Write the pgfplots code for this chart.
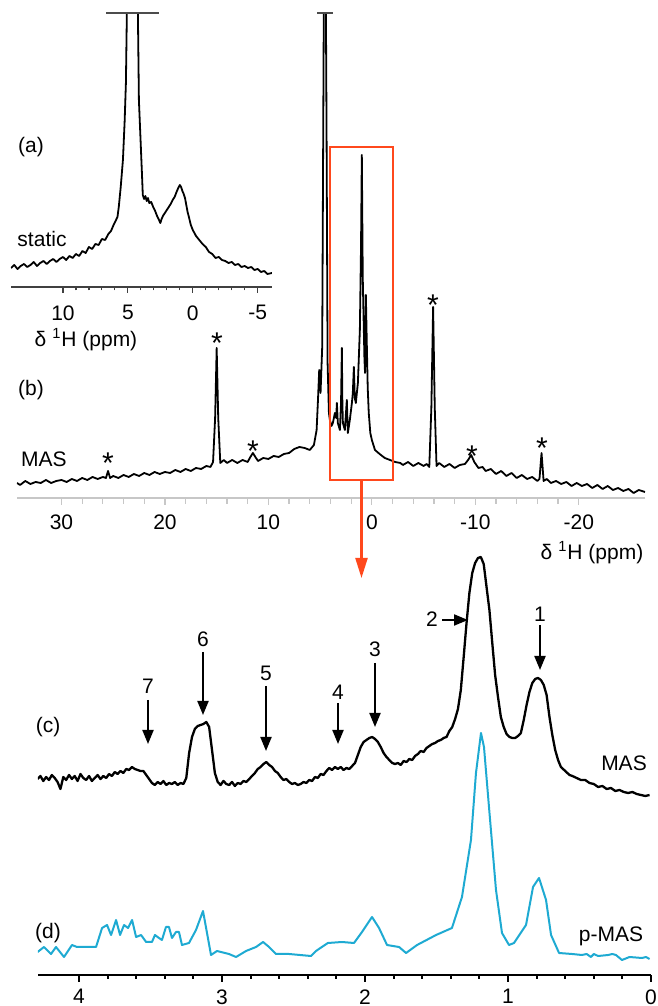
\documentclass[border=0pt]{standalone}
\usepackage{fontspec}
\setmainfont{Liberation Sans}
\usepackage{pgfplots}
\pgfplotsset{compat=1.18}
\usetikzlibrary{arrows.meta}
\definecolor{boxred}{RGB}{255,72,28}
\definecolor{pcyan}{RGB}{30,170,210}
\pgfplotsset{
  spec/.style={
    scale only axis, x dir=reverse, ymin=0,
    axis x line*=bottom, axis y line=none,
    tick align=outside,
    minor tick num=4,
    x tick label style={font=\fontsize{10.5}{12}\selectfont},
  }
}
\begin{document}
\fontsize{10.5}{12}\selectfont
\begin{tikzpicture}
\useasboundingbox (0,0) rectangle (329pt,503pt);
% ---------------- (a) static inset
\begin{axis}[spec, at={(5.5pt,359.5pt)}, anchor=south west,
  width=130.5pt, height=137pt,
  xmin=-6.1, xmax=14, ymax=274,
  xtick={-5,0,5,10}, xticklabels={-5,0,5,10},
  axis line style={draw=black!75, line width=0.6pt, -},
  tick style={draw=black!75, line width=0.6pt},
  major tick length=3pt, minor tick length=1.7pt,
  xticklabel style={yshift=-2.5pt}]
\addplot[black, line width=0.9pt, line join=round] coordinates {
(14.0,19) (13.75,22) (13.5,18) (13.25,21) (13.0,23) (12.75,20) (12.5,22) (12.25,25)
(12.0,21) (11.75,24) (11.5,26) (11.25,23) (11.0,26) (10.75,28) (10.5,25) (10.25,28)
(10.0,30) (9.75,27) (9.5,31) (9.25,29) (9.0,33) (8.75,31) (8.5,36) (8.25,34)
(8.0,40) (7.75,38) (7.5,43) (7.25,42) (7.0,48) (6.75,47) (6.5,53) (6.3,56)
(6.1,62) (5.95,66) (5.8,70) (5.7,80) (5.55,100) (5.38,127) (5.25,165) (5.15,204)
(5.05,300) (4.65,600) (4.25,300) (4.15,187) (4.0,140) (3.92,115) (3.85,92) (3.75,88)
(3.65,91) (3.55,86) (3.45,89) (3.35,84) (3.2,85) (3.05,80) (2.9,76) (2.75,71)
(2.6,67) (2.5,64) (2.4,68) (2.3,71) (2.15,74) (2.0,77) (1.85,80) (1.7,83)
(1.55,87) (1.4,90) (1.25,95) (1.12,99) (1.0,102) (0.9,100) (0.8,96) (0.7,93)
(0.6,89) (0.5,82) (0.4,75) (0.3,70) (0.15,62) (0.0,57) (-0.25,51) (-0.5,47)
(-0.75,43) (-1.0,40) (-1.25,35) (-1.5,33) (-1.75,29) (-2.0,30) (-2.25,27) (-2.5,26)
(-2.75,24) (-3.0,25) (-3.25,22) (-3.5,23) (-3.75,20) (-4.0,21) (-4.25,19) (-4.5,20)
(-4.75,17) (-5.0,18) (-5.25,15) (-5.5,16) (-5.75,13) (-6.1,14)
};
\end{axis}
% ---------------- (b) MAS full
\begin{axis}[spec, at={(8.5pt,254pt)}, anchor=south west,
  width=314pt, height=242.5pt,
  xmin=-26.4, xmax=34.3, ymax=485,
  xtick={-20,-10,0,10,20,30}, xticklabels={-20,-10,0,10,20,30},
  axis line style={draw=black!22, line width=0.6pt, -},
  tick style={draw=black!22, line width=0.6pt},
  major tick length=3.5pt, minor tick length=3pt,
  xticklabel style={yshift=-3.5pt, inner sep=1pt}]
\addplot[black, line width=0.9pt, line join=round] coordinates {
(34.3,15) (34.0,13) (33.5,17) (33.0,14) (32.5,16) (32.0,15) (31.5,18) (31.0,15)
(30.5,17) (30.0,18) (29.5,16) (29.0,19) (28.5,17) (28.0,20) (27.5,18) (27.0,21)
(26.5,19) (26.0,21) (25.7,20) (25.5,27) (25.3,20) (25.0,22) (24.5,20) (24.0,23)
(23.5,21) (23.0,24) (22.5,22) (22.0,25) (21.5,23) (21.0,26) (20.5,24) (20.0,26)
(19.5,25) (19.0,28) (18.5,26) (18.0,29) (17.5,27) (17.0,30) (16.5,29) (16.0,32)
(15.6,31) (15.35,36) (15.15,80) (15.0,150) (14.85,80) (14.65,35) (14.3,38) (14.0,35)
(13.5,38) (13.0,35) (12.5,38) (12.0,36) (11.8,40) (11.5,45) (11.2,40) (11.0,37)
(10.5,40) (10.0,39) (9.5,42) (9.0,41) (8.5,44) (8.0,45) (7.5,49) (7.0,51)
(6.5,50) (6.0,48) (5.6,53) (5.34,68) (5.2,100) (5.09,128) (4.96,105) (4.80,151)
(4.70,368) (4.55,700) (4.38,368) (4.28,135) (4.15,85) (4.06,78) (3.90,72) (3.77,75)
(3.57,85) (3.45,80) (3.38,95) (3.29,75) (3.09,68) (2.98,95) (2.90,150) (2.85,95)
(2.80,75) (2.61,68) (2.42,98) (2.32,65) (2.13,78) (1.93,95) (1.84,105) (1.74,131)
(1.65,100) (1.55,95) (1.35,115) (1.16,168) (1.05,250) (0.97,343) (0.88,220) (0.72,140)
(0.66,125) (0.58,203) (0.50,160) (0.40,110) (0.30,85) (0.15,65) (0.0,58) (-0.3,48)
(-0.75,44) (-1.25,40) (-1.75,38) (-2.25,36) (-2.75,35) (-3.0,33) (-3.5,36) (-4.0,32)
(-4.5,35) (-5.0,32) (-5.3,34) (-5.55,31) (-5.75,90) (-5.92,191) (-6.08,90) (-6.25,32)
(-6.5,35) (-7.0,31) (-7.5,34) (-8.0,30) (-8.5,33) (-9.0,34) (-9.3,38) (-9.6,43)
(-9.9,36) (-10.3,30) (-10.7,31) (-11.0,27) (-11.5,29) (-12.0,24) (-12.5,27) (-13.0,22)
(-13.5,25) (-14.0,20) (-14.5,23) (-15.0,19) (-15.5,21) (-16.0,17) (-16.2,19) (-16.4,45)
(-16.6,17) (-16.9,19) (-17.3,15) (-17.8,17) (-18.3,14) (-18.8,16) (-19.3,12) (-19.8,15)
(-20.3,12) (-20.8,14) (-21.3,10) (-21.8,13) (-22.3,9) (-22.8,12) (-23.3,8) (-23.8,10)
(-24.3,7) (-24.8,9) (-25.3,5) (-25.8,8) (-26.4,6)
};
\end{axis}
% ---------------- (c),(d) expanded
\begin{axis}[spec, at={(19pt,15.5pt)}, anchor=south west,
  width=306.5pt, height=217.5pt,
  xmin=0, xmax=4.287, ymax=435,
  xtick={0,1,2,3,4}, xticklabels={0,1,2,3,4},
  axis line style={draw=black, line width=1pt, -},
  tick style={draw=black, line width=1pt},
  major tick length=3.5pt, minor tick length=2pt]
\addplot[black, line width=1.15pt, line join=round] coordinates {
(4.29,196) (4.27,199) (4.25,194) (4.23,198) (4.21,195) (4.19,200) (4.17,197) (4.15,193)
(4.13,186) (4.11,198) (4.09,195) (4.07,200) (4.05,196) (4.03,199) (4.01,194) (3.99,201)
(3.97,197) (3.95,195) (3.93,199) (3.91,194) (3.89,197) (3.87,200) (3.85,196) (3.83,199)
(3.81,197) (3.79,201) (3.77,199) (3.75,203) (3.73,201) (3.71,204) (3.69,202) (3.67,206)
(3.65,205) (3.63,208) (3.61,206) (3.59,205) (3.57,204) (3.55,204) (3.53,200) (3.51,196)
(3.49,192) (3.47,190) (3.45,193) (3.43,191) (3.41,194) (3.39,190) (3.37,192) (3.35,191)
(3.33,193) (3.31,190) (3.29,192) (3.27,191) (3.25,197) (3.23,222) (3.21,238) (3.19,246)
(3.17,249) (3.15,250) (3.13,251) (3.11,253) (3.09,248) (3.07,225) (3.05,202) (3.03,193)
(3.01,190) (2.99,194) (2.97,191) (2.95,190) (2.93,193) (2.91,189) (2.89,192) (2.87,191)
(2.85,194) (2.83,193) (2.81,196) (2.79,199) (2.77,202) (2.75,206) (2.73,208) (2.71,211)
(2.69,213) (2.67,210) (2.65,208) (2.63,204) (2.61,202) (2.59,198) (2.57,195) (2.55,196)
(2.53,193) (2.51,191) (2.49,192) (2.47,190) (2.45,191) (2.43,193) (2.41,192) (2.39,195)
(2.37,194) (2.35,198) (2.33,197) (2.31,201) (2.29,200) (2.27,204) (2.25,207) (2.23,205)
(2.21,208) (2.19,206) (2.17,208) (2.15,205) (2.13,207) (2.11,206) (2.09,209) (2.07,212)
(2.05,220) (2.03,228) (2.01,233) (1.99,235) (1.97,237) (1.95,238) (1.93,236) (1.91,233)
(1.89,228) (1.87,222) (1.85,218) (1.83,215) (1.81,212) (1.79,211) (1.77,212) (1.75,210)
(1.73,214) (1.71,213) (1.69,216) (1.67,215) (1.65,219) (1.63,221) (1.61,224) (1.59,223)
(1.57,227) (1.55,229) (1.53,231) (1.51,232) (1.49,234) (1.47,235) (1.45,237) (1.43,238)
(1.41,244) (1.39,248) (1.37,256) (1.35,266) (1.33,285) (1.31,318) (1.29,352) (1.27,382)
(1.25,402) (1.23,412) (1.21,417) (1.19,418) (1.17,411) (1.15,388) (1.13,365) (1.11,332)
(1.09,300) (1.07,278) (1.05,258) (1.03,248) (1.01,241) (0.99,238) (0.97,237) (0.95,237)
(0.93,239) (0.91,242) (0.89,255) (0.87,270) (0.85,283) (0.83,292) (0.81,296) (0.79,297)
(0.77,295) (0.75,290) (0.73,280) (0.71,258) (0.69,240) (0.67,225) (0.65,215) (0.63,208)
(0.60,204) (0.57,200) (0.55,199) (0.52,197) (0.49,195) (0.46,195) (0.43,192) (0.40,191)
(0.37,188) (0.34,189) (0.31,186) (0.28,187) (0.25,184) (0.22,185) (0.19,183) (0.16,182)
(0.13,183) (0.10,181) (0.07,180) (0.04,179) (0.01,180)
};
\addplot[pcyan, line width=1pt, line join=round] coordinates {
(4.29,23) (4.245,28) (4.196,21) (4.161,28) (4.105,18) (4.049,30) (4.014,28) (3.881,28)
(3.839,47) (3.804,50) (3.776,40) (3.741,55) (3.713,40) (3.685,50) (3.657,47) (3.629,55)
(3.601,38) (3.566,40) (3.531,33) (3.490,33) (3.469,40) (3.441,37) (3.420,35) (3.392,48)
(3.371,48) (3.350,37) (3.322,43) (3.301,43) (3.280,30) (3.231,32) (3.182,45) (3.133,64)
(3.077,20) (3.035,24) (2.951,21) (2.902,18) (2.832,24) (2.762,28) (2.713,33) (2.671,28)
(2.622,21) (2.531,21) (2.378,19) (2.343,24) (2.26,32) (2.161,33) (2.077,32) (2.021,43)
(1.951,58) (1.902,47) (1.846,30) (1.762,28) (1.713,22) (1.636,30) (1.503,40) (1.392,47)
(1.322,78) (1.259,135) (1.224,202) (1.189,242) (1.168,228) (1.133,168) (1.084,85) (1.042,42)
(0.993,30) (0.958,32) (0.874,50) (0.825,88) (0.783,97) (0.734,75) (0.699,40) (0.643,22)
(0.552,21) (0.483,20) (0.45,21) (0.42,18) (0.40,21) (0.37,19) (0.30,20) (0.27,21)
(0.245,20) (0.203,15) (0.15,18) (0.063,17) (0.035,18) (0.01,16)
};
\end{axis}
% ---------------- annotations (pixel frame of the reference)
\begin{scope}[x=0.5pt, y=-0.5pt, shift={(0pt,503pt)}]
\draw[black!70, line width=1.3pt] (106,13) -- (159,13);
\draw[black!70, line width=1.3pt] (317,13) -- (333,13);
\node at (31,147) {(a)};
\node[anchor=base] at (42,247) {static};
\node at (86,340) {δ \textsuperscript{1}H (ppm)};
\node at (31,390) {(b)};
\node[anchor=base] at (44,467) {MAS};
\node[inner sep=1pt] at (592,553) {δ \textsuperscript{1}H (ppm)};
\begin{scope}[every node/.style={font=\fontsize{15}{15}\selectfont}]
\node at (108,463) {*};
\node at (217,343) {*};
\node at (253,451) {*};
\node at (433,305) {*};
\node at (472,456) {*};
\node at (542,448) {*};
\end{scope}
\draw[boxred, line width=1.1pt] (330,147) rectangle (393,480);
\draw[boxred, line width=1.1pt, -{Triangle[length=10pt,width=6pt]}] (361.5,480) -- (361.5,578);
\node at (48,727) {(c)};
\node at (48,933) {(d)};
\node[anchor=base] at (624,771) {MAS};
\node[anchor=base] at (611,942) {p-MAS};
\begin{scope}[line width=1pt, -{Triangle[length=7pt,width=5.5pt]}]
\draw (148,700) -- (148,744);
\draw (203,652) -- (203,715);
\draw (266,686) -- (266,751);
\draw (338,703) -- (338,744);
\draw (375,663) -- (375,727);
\draw (442,620) -- (468,620);
\draw (540,625) -- (540,670);
\end{scope}
\node[anchor=base] at (148,694) {7};
\node[anchor=base] at (203,647) {6};
\node[anchor=base] at (266,681) {5};
\node[anchor=base] at (338,700) {4};
\node[anchor=base] at (375,657) {3};
\node[anchor=base] at (432,627) {2};
\node[anchor=base] at (540,622) {1};
\end{scope}
\end{tikzpicture}
\end{document}
